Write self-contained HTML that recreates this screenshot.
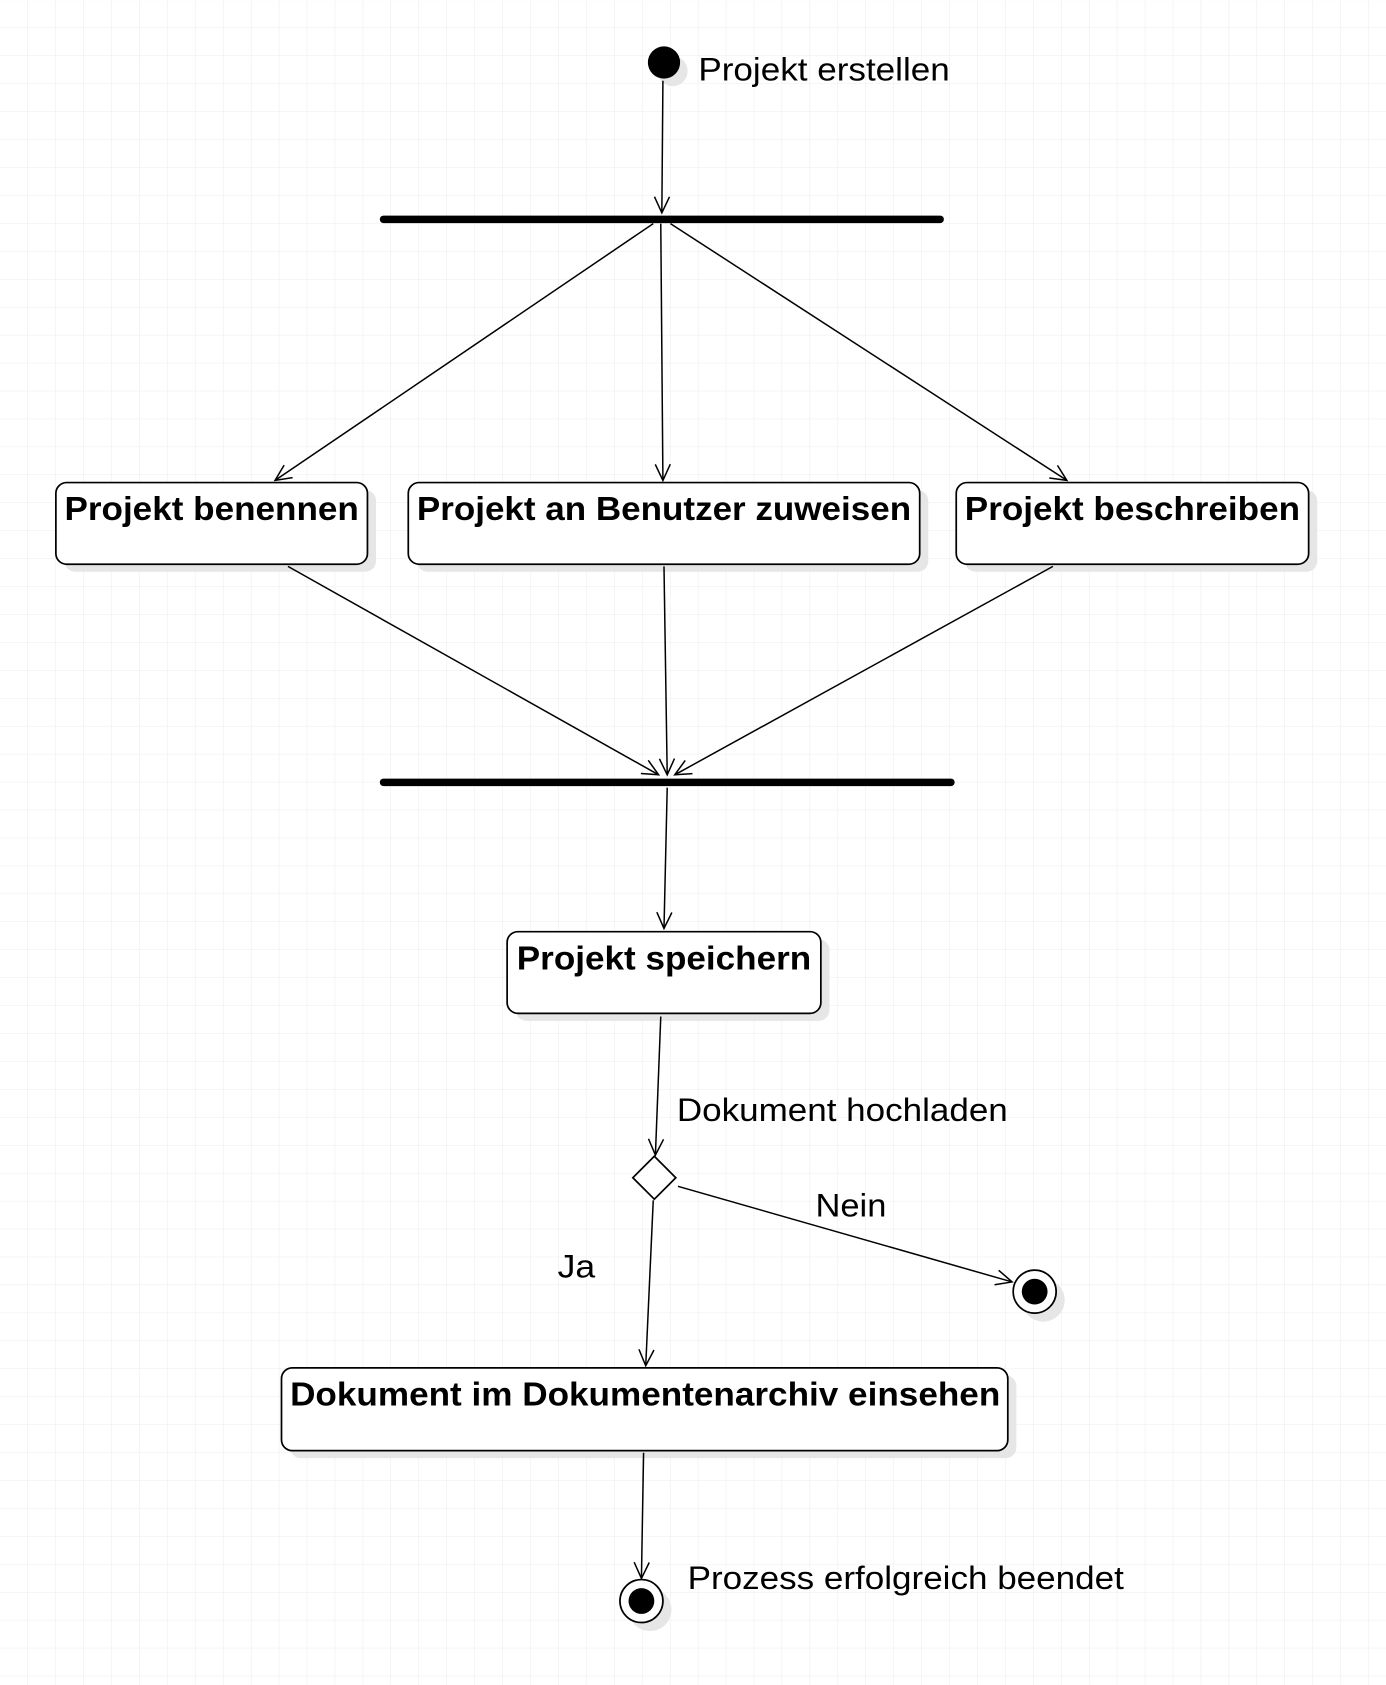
<!DOCTYPE html>
<html><head><meta charset="utf-8"><style>
html,body{margin:0;padding:0;background:#fff;}
svg{display:block;}
text{font-family:"Liberation Sans",Arial,sans-serif;fill:#000;}
.b{font-weight:bold;font-size:31px;}
.r{font-size:30px;}
</style></head><body>
<svg width="1386" height="1685" viewBox="0 0 1290 1568" xmlns="http://www.w3.org/2000/svg">
<defs>
<pattern id="g" width="26" height="26" patternUnits="userSpaceOnUse">
<path d="M26 0V26H0" fill="none" stroke="#ececec" stroke-width="1"/>
</pattern>
<marker id="a" markerWidth="20" markerHeight="20" refX="16" refY="8" orient="auto" markerUnits="userSpaceOnUse">
<path d="M1 1L16 8L1 15" fill="none" stroke="#000" stroke-width="1.4"/>
</marker>
</defs>
<rect width="1290" height="1568" fill="#fff"/>
<rect width="1290" height="1568" fill="url(#g)"/>

<!-- shadows -->
<g fill="#e6e6e6">
<rect x="60" y="456" width="290" height="76" rx="10"/>
<rect x="388" y="456" width="476" height="76" rx="10"/>
<rect x="898" y="456" width="328" height="76" rx="10"/>
<rect x="480" y="874" width="292" height="76" rx="10"/>
<rect x="270" y="1280" width="676" height="77" rx="10"/>
<circle cx="626" cy="66" r="14"/>
<circle cx="971" cy="1210" r="20"/>
<circle cx="605" cy="1498" r="20"/>
</g>

<!-- start -->
<circle cx="618" cy="58" r="15" fill="#000"/>
<text class="r" x="650" y="75" textLength="234" lengthAdjust="spacingAndGlyphs">Projekt erstellen</text>
<g stroke="#000" stroke-width="1.4" fill="none" marker-end="url(#a)">
<line x1="617" y1="75" x2="616" y2="198"/>
<line x1="608" y1="208" x2="256" y2="447"/>
<line x1="615" y1="208" x2="617" y2="447"/>
<line x1="624" y1="208" x2="993" y2="447"/>
<line x1="268" y1="527" x2="613" y2="721"/>
<line x1="618" y1="527" x2="621" y2="721"/>
<line x1="980" y1="527" x2="628" y2="721"/>
<line x1="621" y1="733" x2="618" y2="864"/>
<line x1="615" y1="946" x2="610" y2="1075"/>
<line x1="631" y1="1104" x2="942" y2="1193"/>
<line x1="608" y1="1117" x2="601" y2="1271"/>
<line x1="599" y1="1352" x2="597" y2="1469"/>
</g>
<!-- bars -->
<line x1="357" y1="204" x2="875" y2="204" stroke="#000" stroke-width="7" stroke-linecap="round"/>
<line x1="357" y1="728" x2="885" y2="728" stroke="#000" stroke-width="7" stroke-linecap="round"/>

<!-- boxes -->
<g fill="#fff" stroke="#000" stroke-width="1.6">
<rect x="52" y="449" width="290" height="76" rx="10"/>
<rect x="380" y="449" width="476" height="76" rx="10"/>
<rect x="890" y="449" width="328" height="76" rx="10"/>
<rect x="472" y="867" width="292" height="76" rx="10"/>
<rect x="262" y="1273" width="676" height="77" rx="10"/>
</g>
<text class="b" x="60" y="484" textLength="274" lengthAdjust="spacingAndGlyphs">Projekt benennen</text>
<text class="b" x="388" y="484" textLength="460" lengthAdjust="spacingAndGlyphs">Projekt an Benutzer zuweisen</text>
<text class="b" x="898" y="484" textLength="312" lengthAdjust="spacingAndGlyphs">Projekt beschreiben</text>
<text class="b" x="481" y="902" textLength="274" lengthAdjust="spacingAndGlyphs">Projekt speichern</text>
<text class="b" x="270" y="1308" textLength="661" lengthAdjust="spacingAndGlyphs">Dokument im Dokumentenarchiv einsehen</text>

<!-- decision -->
<polygon points="609,1076 629,1096 609,1116 589,1096" fill="#fff" stroke="#000" stroke-width="1.6"/>
<text class="r" x="630" y="1043" textLength="308" lengthAdjust="spacingAndGlyphs">Dokument hochladen</text>
<text class="r" x="759" y="1132" textLength="66" lengthAdjust="spacingAndGlyphs">Nein</text>
<text class="r" x="519" y="1189" textLength="35" lengthAdjust="spacingAndGlyphs">Ja</text>

<!-- ends -->
<circle cx="963" cy="1202" r="20" fill="#fff" stroke="#000" stroke-width="1.6"/>
<circle cx="963" cy="1202" r="12" fill="#000"/>
<circle cx="597" cy="1490" r="20" fill="#fff" stroke="#000" stroke-width="1.6"/>
<circle cx="597" cy="1490" r="12" fill="#000"/>
<text class="r" x="640" y="1479" textLength="406" lengthAdjust="spacingAndGlyphs">Prozess erfolgreich beendet</text>
</svg>
</body></html>
